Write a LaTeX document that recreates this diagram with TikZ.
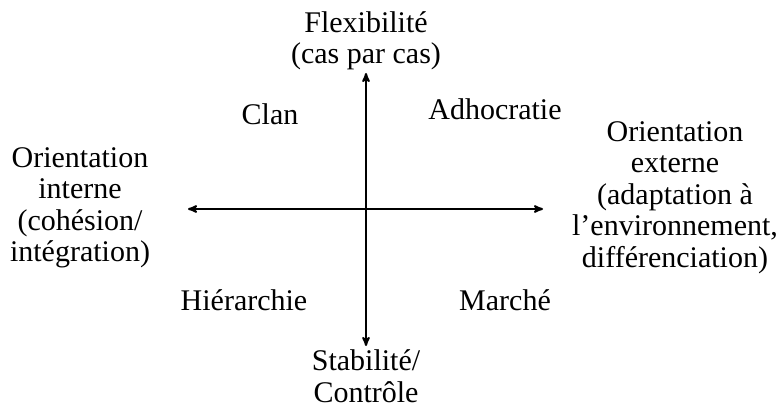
\documentclass[tikz,border=0pt]{standalone}
\usepackage{fontspec}
\setmainfont{Liberation Serif}
\usetikzlibrary{arrows}
\tikzset{
  %labels at the ends of the axes
  axisLabel/.style = {align=center, inner sep=0pt,
    font=\fontsize{30}{31.5}\selectfont},
  %names of the quadrants
  quadLabel/.style = {anchor=base, inner sep=0pt,
    font=\fontsize{30}{31.5}\selectfont}
}
\begin{document}
\begin{tikzpicture}[x=1pt,y=-1pt,>=stealth',line width=2pt]
\useasboundingbox (0,0) rectangle (779,409);
\coordinate (axTop) at (366,73);
\coordinate (axBottom) at (366,346);
\coordinate (axLeft) at (188,209);
\coordinate (axRight) at (543,209);
\node [axisLabel] (flex) at (366,41) {Flexibilité\\(cas par cas)};
\node [axisLabel] (stab) at (366,376) {Stabilité/\\Contrôle};
\node [axisLabel] (intern) at (80,208) {Orientation\\interne\\(cohésion/\\intégration)};
\node [axisLabel] (extern) at (675,197.5) {Orientation\\externe\\(adaptation à\\l’environnement,\\différenciation)};
\node [quadLabel] (clan) at (270,125) {Clan};
\node [quadLabel] (adhoc) at (495,120) {Adhocratie};
\node [quadLabel] (hier) at (244,310) {Hiérarchie};
\node [quadLabel] (market) at (505,310) {Marché};
\draw [<->] (axTop) -- (axBottom);
\draw [<->] (axLeft) -- (axRight);
\end{tikzpicture}
\end{document}
